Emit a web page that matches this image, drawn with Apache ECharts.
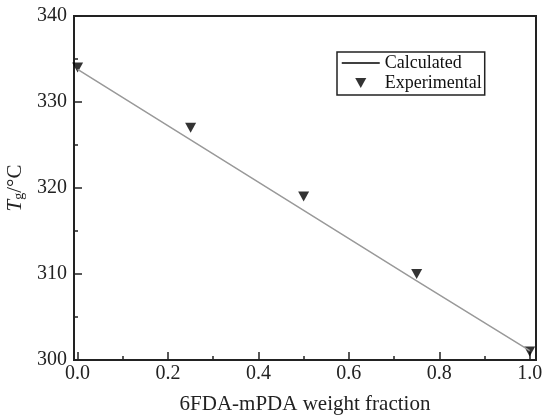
<!DOCTYPE html>
<html>
<head>
<meta charset="utf-8">
<script src="https://cdn.jsdelivr.net/npm/echarts@6/dist/echarts.min.js"></script>
<style>
  html, body { margin: 0; padding: 0; background: #fff; }
  #chart { width: 542px; height: 416px; }
</style>
</head>
<body>
<div id="chart"></div>
<script>
// 数据
const calcX = [0, 0.25, 0.5, 0.75, 1.0];
const calcY = [333.8, 325.6, 317.4, 309.2, 301.1];
const expX = [0, 0.25, 0.5, 0.75, 1.0];
const expY = [334, 327, 319, 310, 301];
const xMajorTicks = [0, 0.2, 0.4, 0.6, 0.8, 1.0];
const xMinorTicks = [0.1, 0.3, 0.5, 0.7, 0.9];

const serif = 'Liberation Serif';
const ink = '#222';
const triPath = 'path://M0,0L10,0L5,9Z';

const chart = echarts.init(document.getElementById('chart'));

const option = {
  animation: false,
  backgroundColor: '#fff',
  grid: {
    left: 74,
    right: 6,
    top: 16,
    bottom: 56,
    show: true,
    borderColor: ink,
    borderWidth: 2,
    containLabel: false,
    outerBoundsMode: 'none' // 不自动收缩网格
  },
  legend: {
    orient: 'vertical',
    left: 337,
    top: 52,
    padding: [2, 3, 3, 4],
    borderColor: ink,
    borderWidth: 1.5,
    itemWidth: 38,
    itemHeight: 10,
    itemGap: 2,
    textStyle: { fontFamily: serif, fontSize: 18, color: '#111', lineHeight: 18 },
    data: [
      // 隐藏折线图例里的圆点，只留线
      { name: 'Calculated', itemStyle: { color: 'rgba(0,0,0,0)', opacity: 0, borderWidth: 0 }, lineStyle: { color: '#000', width: 1.5 } },
      { name: 'Experimental', itemStyle: { color: '#000' } }
    ]
  },
  xAxis: [
    {
      type: 'value',
      min: -0.008,
      max: 1.014,
      name: '6FDA-mPDA weight fraction',
      nameLocation: 'middle',
      nameGap: 34,
      nameTextStyle: { fontFamily: serif, fontSize: 21, color: ink },
      splitLine: { show: false },
      axisLine: { show: true, onZero: false, lineStyle: { color: ink, width: 2 } },
      axisTick: { show: true, inside: true, length: 8, lineStyle: { color: ink, width: 1.5 }, customValues: xMajorTicks },
      axisLabel: {
        fontFamily: serif, fontSize: 20, color: ink, margin: 4,
        customValues: xMajorTicks,
        formatter: v => v.toFixed(1)
      }
    },
    {
      // 次刻度
      type: 'value',
      min: -0.008,
      max: 1.014,
      position: 'bottom',
      splitLine: { show: false },
      axisLine: { show: false, onZero: false },
      axisTick: { show: true, inside: true, length: 4, lineStyle: { color: ink, width: 1.5 }, customValues: xMinorTicks },
      axisLabel: { show: false }
    }
  ],
  yAxis: {
    type: 'value',
    min: 300,
    max: 340,
    interval: 10,
    name: '{i|T}{s|g}{n|/°C}',
    nameLocation: 'middle',
    nameRotate: 90,
    nameGap: 42,
    nameTextStyle: {
      fontFamily: serif, color: ink,
      rich: {
        i: { fontFamily: serif, fontSize: 21, fontStyle: 'italic', color: ink },
        s: { fontFamily: serif, fontSize: 14, color: ink, padding: [8, 0, 0, 0] },
        n: { fontFamily: serif, fontSize: 21, color: ink }
      }
    },
    splitLine: { show: false },
    axisLine: { show: true, onZero: false, lineStyle: { color: ink, width: 2 } },
    axisTick: { show: true, inside: true, length: 8, lineStyle: { color: ink, width: 1.5 } },
    minorTick: { show: true, splitNumber: 2, length: 4, lineStyle: { color: ink, width: 1.5 } },
    axisLabel: { fontFamily: serif, fontSize: 20, color: ink, margin: 7 }
  },
  series: [
    {
      name: 'Calculated',
      type: 'line',
      showSymbol: false,
      symbol: 'none',
      data: calcX.map((x, i) => [x, calcY[i]]),
      lineStyle: { color: '#999', width: 1.5 },
      itemStyle: { color: '#000' }
    },
    {
      name: 'Experimental',
      type: 'scatter',
      symbol: triPath,
      symbolSize: [11, 10],
      data: expX.map((x, i) => [x, expY[i]]),
      itemStyle: { color: '#000' }
    }
  ]
};

chart.setOption(option);
</script>
</body>
</html>
